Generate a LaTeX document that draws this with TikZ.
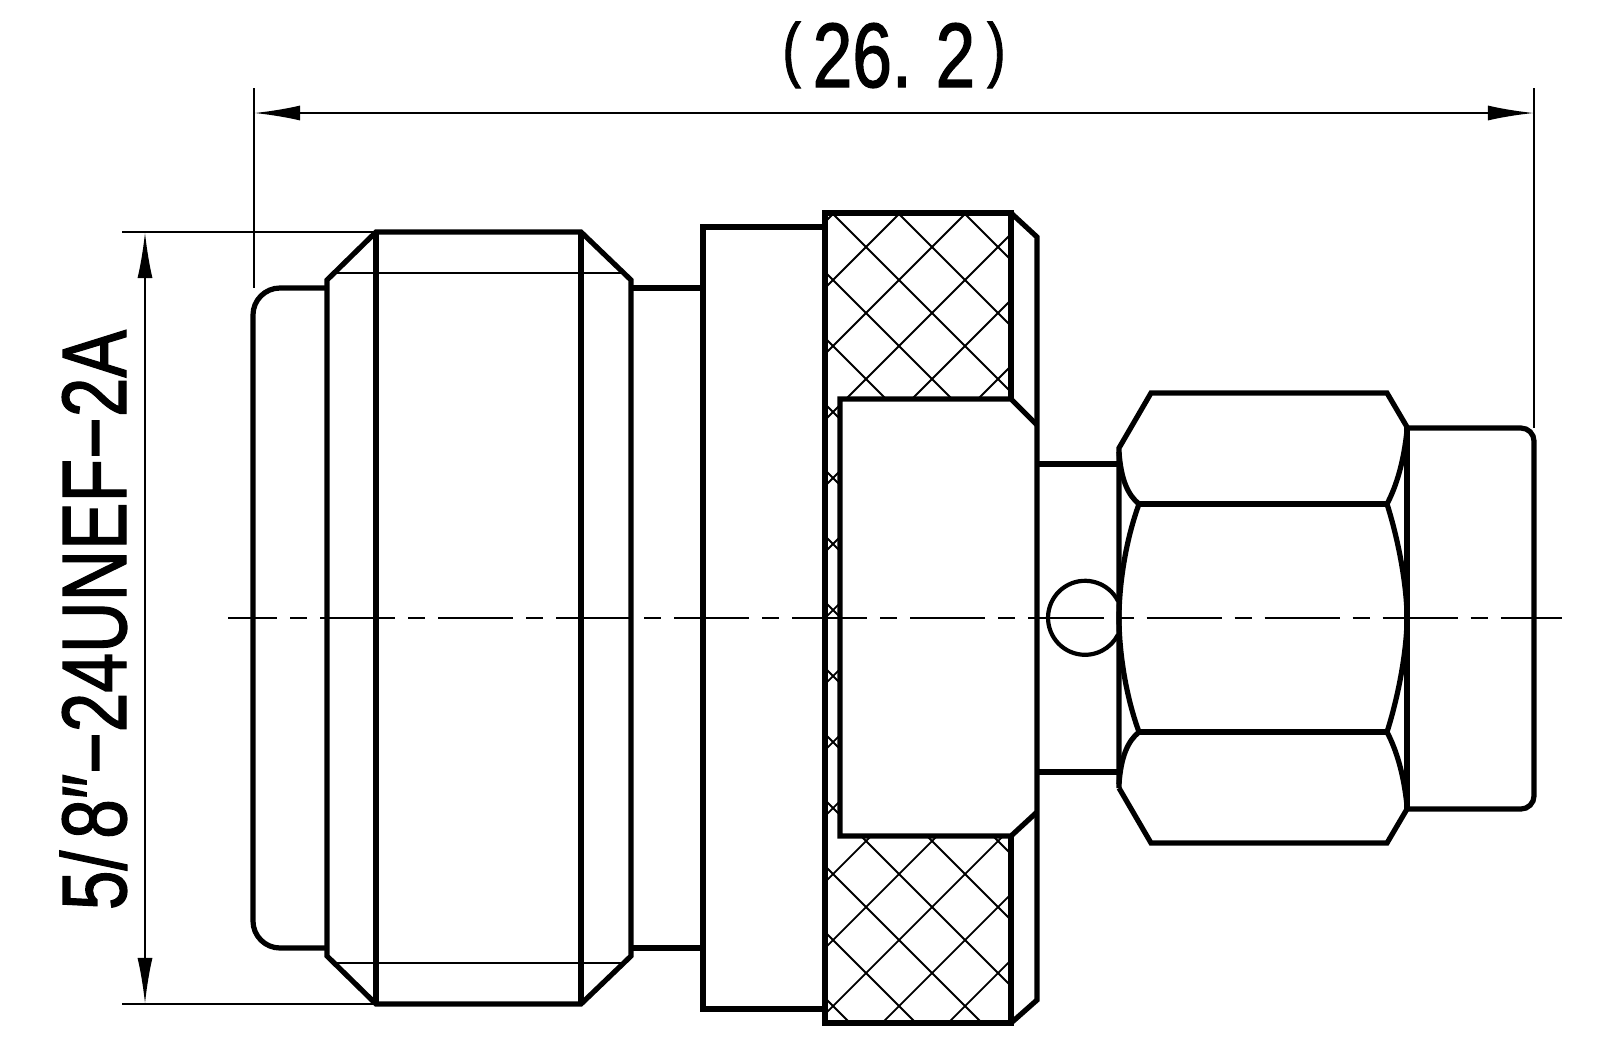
\documentclass[tikz,border=0pt]{standalone}
\usepackage{graphicx}
\usepackage{fontspec}
\setmainfont{Liberation Sans}
\newfontfamily\dimfont[FakeBold=1.6]{Liberation Sans}
\usetikzlibrary{arrows.meta}

\newcommand{\smallparen}[1]{\raisebox{0.15em}{\scalebox{0.78}{#1}}}

\tikzset{
  thickline/.style={line width=0.052cm},
  thinline/.style={line width=0.022cm},
  hatchline/.style={line width=0.018cm},
  dimline/.style={thinline,{Latex[length=0.46cm,width=0.15cm]}-{Latex[length=0.46cm,width=0.15cm]}},
  centerline/.style={thinline,dash pattern=on 0.75cm off 0.13cm on 0.17cm off 0.13cm,dash phase=0.26cm},
  dimtext/.style={inner sep=0pt,anchor=base,font=\dimfont\fontsize{26}{28}\selectfont}
}

\begin{document}
\begin{tikzpicture}[x=0.01cm,y=-0.01cm]
\useasboundingbox (0,0) rectangle (1600,1054);

% knurl hatching:
\begin{scope}
\clip (825,213) rectangle (1011,1023);
\foreach \k in {-4,...,12} {
  \draw[hatchline] (825,{800-66*\k}) -- (1011,{986-66*\k});
}
\foreach \k in {15,...,30} {
  \draw[hatchline] (825,{66*\k-768}) -- (1011,{66*\k-954});
}
\end{scope}

% inner flat:
\fill[white] (840,399) -- (1011,399) -- (1037,425) -- (1037,812) -- (1011,836) -- (840,836) -- cycle;

% left thread:
\draw[thickline,rounded corners=0.27cm] (327,288) -- (253,288) -- (253,948) -- (327,948);
\draw[thickline] (327,280) -- (376,232) -- (581,232) -- (631,280) -- (631,956) -- (581,1004) -- (376,1004) -- (327,956) -- cycle;
\draw[thickline] (376,232) -- (376,1004);
\draw[thickline] (581,232) -- (581,1004);
\draw[thinline] (334,273) -- (624,273);
\draw[thinline] (334,963) -- (624,963);

% neck and collar:
\draw[thickline] (631,288) -- (703,288);
\draw[thickline] (631,948) -- (703,948);
\draw[thickline] (825,227) -- (703,227) -- (703,1009) -- (825,1009);

% knurled nut:
\draw[thickline] (1011,399) -- (1011,213) -- (825,213) -- (825,1023) -- (1011,1023) -- (1011,836);
\draw[thickline] (1011,213) -- (1037,237) -- (1037,1000) -- (1011,1023);
\draw[thickline] (1037,425) -- (1011,399) -- (840,399) -- (840,836) -- (1011,836) -- (1037,812);

% stem and pin:
\draw[thickline] (1037,464) -- (1119,464);
\draw[thickline] (1037,772) -- (1119,772);
\draw[line width=0.042cm] (1118,601) arc[start angle=-27,end angle=-333,radius=37];

% hex:
\draw[thickline] (1119,788) -- (1119,448) -- (1151,393) -- (1387,393) -- (1407,427);
\draw[thickline] (1119,788) -- (1151,843) -- (1387,843) -- (1407,809);
\draw[thickline] (1139,504) -- (1387,504);
\draw[thickline] (1139,732) -- (1387,732);
\draw[thickline] (1119,452) .. controls (1121,480) and (1128,495) .. (1139,504);
\draw[thickline] (1119,784) .. controls (1121,756) and (1128,741) .. (1139,732);
\draw[thickline] (1139,504) .. controls (1124,545) and (1119,590) .. (1119,618) .. controls (1119,646) and (1124,691) .. (1139,732);
\draw[thickline] (1387,504) .. controls (1400,545) and (1407,590) .. (1407,618) .. controls (1407,646) and (1400,691) .. (1387,732);
\draw[thickline] (1387,504) .. controls (1397,485) and (1404,460) .. (1407,430);
\draw[thickline] (1387,732) .. controls (1397,751) and (1404,776) .. (1407,806);

% cap:
\draw[thickline] (1407,427) -- (1407,809);
\draw[thickline,rounded corners=0.13cm] (1407,428) -- (1534,428) -- (1534,809) -- (1407,809);

% center line:
\draw[centerline] (228,618) -- (1562,618);

% length dimension:
\draw[thinline] (254,88) -- (254,288);
\draw[thinline] (1534,88) -- (1534,428);
\coordinate (lenL) at (254,113);
\coordinate (lenR) at (1534,113);
\draw[dimline] (lenL) -- (lenR);
\node[dimtext] (lenlabel) at (894,87) {\scalebox{0.78}[1]{\smallparen{(}\,26.\,\,2\,\smallparen{)}}};

% thread dimension:
\draw[thinline] (122,232) -- (376,232);
\draw[thinline] (122,1004) -- (376,1004);
\coordinate (thrT) at (145,232);
\coordinate (thrB) at (145,1004);
\draw[dimline] (thrT) -- (thrB);
\node[dimtext,rotate=90] (thrlabel) at (126,620) {\scalebox{0.78}[1]{5/\,8″−24UNEF−2A}};

\end{tikzpicture}
\end{document}
